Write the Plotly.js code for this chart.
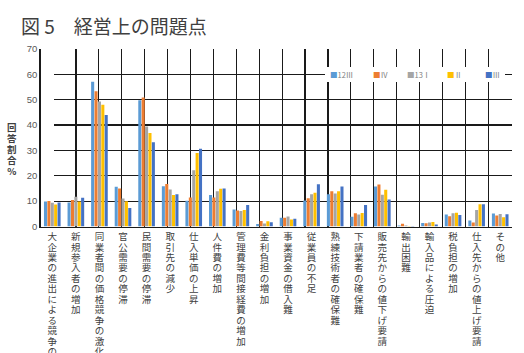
<!DOCTYPE html>
<html><head><meta charset="utf-8">
<script src="https://cdn.plot.ly/plotly-3.0.1.min.js"></script>
<style>html,body{margin:0;padding:0;background:#fff}</style>
</head><body>
<div id="chart" style="width:524px;height:353px"></div>
<script>
// ---- data ----
const categories = [
  '大企業の進出による競争の激化','新規参入者の増加','同業者間の価格競争の激化','官公需要の停滞',
  '民間需要の停滞','取引先の減少','仕入単価の上昇','人件費の増加','管理費等間接経費の増加',
  '金利負担の増加','事業資金の借入難','従業員の不足','熟練技術者の確保難','下請業者の確保難',
  '販売先からの値下げ要請','輸出困難','輸入品による圧迫','税負担の増加','仕入先からの値上げ要請','その他'
];
const seriesNames = ['12Ⅲ','Ⅳ','13Ⅰ','Ⅱ','Ⅲ'];
const s12III = [9.8, 9.5, 57.0, 15.7, 49.7, 15.9, 10.1, 12.4, 6.7, 1.0, 3.4, 10.2, 12.7, 3.8, 15.8, 0.4, 1.4, 4.7, 2.4, 5.1];
const s12IV  = [10.0,10.4, 53.3, 15.0, 50.8, 16.7, 11.4, 11.4, 6.3, 2.2, 3.4, 11.1, 13.9, 5.2, 16.5, 1.1, 1.3, 4.0, 1.6, 4.3];
const s13I   = [9.4, 11.7, 49.2, 11.0, 39.4, 14.6, 22.2, 13.9, 6.1, 1.2, 3.9, 12.7, 13.0, 4.7, 12.5, 0.4, 1.6, 5.2, 6.5, 4.9];
const s13II  = [8.7, 9.8, 48.0, 9.9, 36.8, 12.4, 29.0, 14.9, 6.5, 2.1, 2.8, 13.3, 13.9, 5.3, 14.5, 0.2, 1.8, 5.4, 8.8, 3.6];
const s13III = [9.5, 11.3, 43.9, 7.3, 33.2, 12.7, 30.6, 15.0, 8.5, 1.7, 3.1, 16.6, 15.8, 8.5, 10.6, 0.2, 0.8, 4.5, 8.8, 4.8];
const seriesValues = [s12III, s12IV, s13I, s13II, s13III];
const seriesColors = ['#5B9BD5','#ED7D31','#A5A5A5','#FFC000','#4472C4'];
const yTickVals = [0,10,20,30,40,50,60,70];

// ---- layout helpers ----
const W = 524, H = 353;
const fx = p => p / W;
const fy = p => 1 - p / H;
const yDom = [fy(226.5), fy(48.8)];
const jp = '"Noto Sans CJK JP", "Noto Sans", sans-serif';

const traces = [
  {type:'scatter', x:[], y:[], xaxis:'x', yaxis:'y', showlegend:false, hoverinfo:'skip'}
];
seriesNames.forEach((n, i) => {
  traces.push({
    type:'bar', name:n, x:categories, y:seriesValues[i],
    xaxis:'x2', yaxis:'y2', marker:{color:seriesColors[i]}, showlegend:false
  });
});

const legendX = [329, 371.5, 405.5, 445.5, 484];
const annotations = seriesNames.map((n, i) => ({
  xref:'paper', yref:'paper', x:fx(legendX[i]), y:fy(75), xanchor:'left', yanchor:'middle',
  showarrow:false, borderpad:0,
  text:'<span style="color:' + seriesColors[i] + '">■</span>' + n,
  font:{family:jp, size:7.5, color:'#7f7f7f'}
}));
annotations.push({
  xref:'paper', yref:'paper', x:fx(11.7), y:fy(119), xanchor:'center', yanchor:'top',
  showarrow:false, borderpad:0, text:'回<br>答<br>割<br>合<br>%',
  font:{family:jp, size:9.5, color:'#404040', weight:'bold'}
});

const layout = {
  width:W, height:H,
  margin:{l:0, r:0, t:0, b:0},
  paper_bgcolor:'#fff', plot_bgcolor:'rgba(0,0,0,0)',
  showlegend:false,
  title:{text:'図 5　経営上の問題点', x:fx(21), xanchor:'left', y:fy(27), yanchor:'middle',
         font:{family:jp, size:19, color:'#404040'}},
  bargap:0.28, bargroupgap:0.1, barmode:'group',
  xaxis:{domain:[fx(53.5), fx(511.7)], range:[0.02, 20.02], anchor:'y', tick0:1, dtick:1,
         showgrid:true, gridcolor:'#1a1a1a', gridwidth:1.2, zeroline:false, showticklabels:false,
         ticks:'', showline:false, fixedrange:true},
  yaxis:{domain:yDom, range:[0,70], anchor:'x', dtick:10, showgrid:true, gridcolor:'#1a1a1a',
         gridwidth:1.2, zeroline:false, showticklabels:false, ticks:'', showline:false},
  xaxis2:{domain:[fx(40.5), fx(512)], anchor:'y2', type:'category', showgrid:false,
          showline:true, linecolor:'#1a1a1a', linewidth:1.2, ticks:'', tickangle:0,
          tickmode:'array', tickvals:categories,
          ticktext:categories.map(c => c.split('').join('<br>')),
          tickfont:{family:jp, size:9.5, color:'#404040'}, ticklabelstandoff:1},
  yaxis2:{domain:yDom, anchor:'x2', range:[0,70], tickvals:yTickVals, showgrid:false,
          zeroline:false, showline:true, linecolor:'#1a1a1a', linewidth:1.2, ticks:'',
          tickfont:{family:'"Liberation Sans", "Noto Sans", sans-serif', size:9.5, color:'#595959'}},
  shapes:[{type:'rect', xref:'paper', yref:'paper', x0:fx(325), x1:fx(505), y0:fy(82), y1:fy(67),
           fillcolor:'#fff', line:{width:0}, layer:'above'}],
  annotations:annotations
};

Plotly.newPlot('chart', traces, layout, {staticPlot:true}).then(() => {
  const tighten = (sel, factor) => {
    document.querySelectorAll(sel).forEach(t => {
      const dy = parseFloat(t.getAttribute('dy'));
      if (!isNaN(dy) && dy !== 0) t.setAttribute('dy', (dy * factor) + 'em');
    });
  };
  tighten('.x2tick text tspan.line', 1.1 / 1.3);
  tighten('.annotation-text tspan.line', 1.15 / 1.3);
});
</script>
</body></html>
